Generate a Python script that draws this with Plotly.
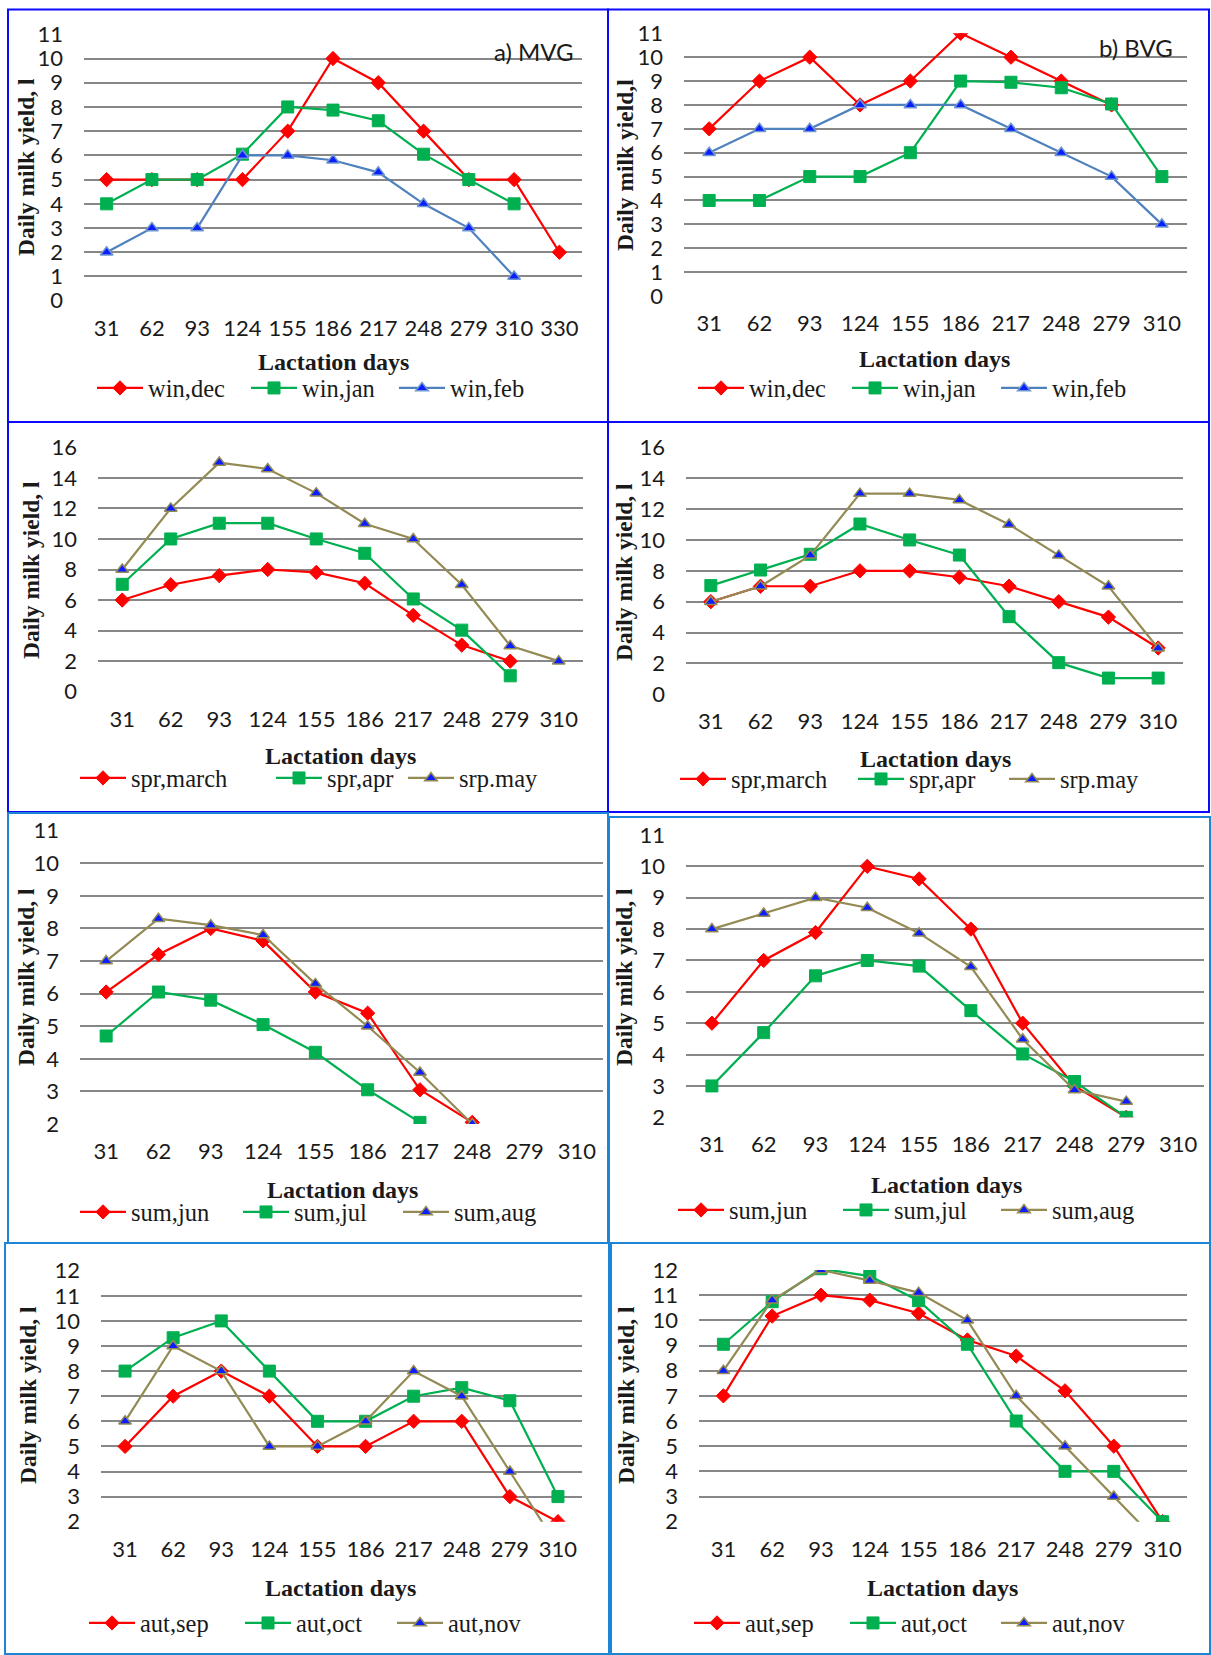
import plotly.graph_objects as go

W, H = 1211, 1655

# ---------------- data ----------------
days11 = ["31", "62", "93", "124", "155", "186", "217", "248", "279", "310", "330"]
days10 = days11[:10]

# a) MVG – winter
a_dec = [5, 5, 5, 5, 7, 10, 9, 7, 5, 5, 2]
a_jan = [4, 5, 5, 6.05, 8, 7.87, 7.43, 6.05, 5, 4]
a_feb = [2, 3, 3, 6, 6, 5.8, 5.3, 4, 3, 1]
# b) BVG – winter
b_dec = [7, 9, 10, 8, 9, 11, 10, 9, 8]
b_jan = [4, 4, 5, 5, 6, 9, 8.95, 8.72, 8.04, 5]
b_feb = [6, 7, 7, 8, 8, 8, 7, 6, 5, 3]
# MVG – spring
c_mar = [6, 7, 7.6, 8, 7.81, 7.1, 5, 3.05, 2]
c_apr = [7.03, 10, 11.03, 11.03, 10, 9.06, 6.07, 4.03, 1.04]
c_may = [8, 12, 15, 14.58, 13, 11, 10, 7, 3, 2]
# BVG – spring
d_mar = [6, 7, 7, 8, 8, 7.58, 7, 6, 5, 3]
d_apr = [7.04, 8.05, 9.07, 11.03, 10, 9.02, 5.03, 2.05, 1.05, 1.05]
d_may = [6, 7, 9, 13, 13, 12.59, 11, 9, 7, 2.98]
# MVG – summer
e_jun = [6.05, 7.2, 8, 7.62, 6.05, 5.4, 3.05, 2.05]
e_jul = [4.7, 6.05, 5.8, 5.05, 4.2, 3.05, 2.05]
e_aug = [7, 8.3, 8.1, 7.8, 6.3, 5, 3.58, 2]
# BVG – summer
f_jun = [5, 7, 7.89, 10, 9.6, 8, 5, 3, 2]
f_jul = [3, 4.7, 6.51, 7, 6.82, 5.4, 4.02, 3.14, 2]
f_aug = [8, 8.5, 9, 8.68, 7.87, 6.8, 4.49, 2.87, 2.5]
# MVG – autumn
g_sep = [5, 7, 8, 7, 5, 5, 6, 6, 3, 2]
g_oct = [8, 9.33, 10, 8, 6, 6, 7, 7.34, 6.82, 3]
g_nov = [6, 9, 8, 5, 5, 6, 8, 7, 4, 1]
# BVG – autumn
h_sep = [7, 10.17, 11, 10.8, 10.28, 9.22, 8.58, 7.2, 5, 2]
h_oct = [9.05, 10.74, 12.05, 11.76, 10.78, 9.05, 6, 4, 4, 2]
h_nov = [8, 10.8, 12, 11.58, 11.1, 10, 7, 5, 3, 1]

# ---------------- styles ----------------
STY = {
    "red": dict(line=dict(color="#FF0000", width=2.2),
                marker=dict(symbol="diamond", size=11, color="#FF0000",
                            line=dict(color="#FF0000", width=1))),
    "green": dict(line=dict(color="#00B050", width=2.2),
                  marker=dict(symbol="square", size=12, color="#00B050",
                              line=dict(color="#00B050", width=1))),
    "steel": dict(line=dict(color="#4F81BD", width=2.2),
                  marker=dict(symbol="triangle-up", size=11, color="#0A1EFF",
                              line=dict(color="#6F97CF", width=1.5))),
    "tan": dict(line=dict(color="#948A54", width=2.2),
                marker=dict(symbol="triangle-up", size=11, color="#0A1EFF",
                            line=dict(color="#948A54", width=1.5))),
}

BLUE1 = "#0A0AFF"
BLUE2 = "#1E84D6"

panels = [
    dict(cats=days11, ser=[("win,dec", a_dec, "red"), ("win,jan", a_jan, "green"), ("win,feb", a_feb, "steel")],
         x=(84, 582), y=(34.3, 300.7), yr=(0, 11), dt=1,
         leg=(99, 253, 401), legy=388, xt=(333, 362), yt=(26, 167), ytext="Daily milk yield, l",
         box=(8, 9.5, 608, 422, BLUE1), label=("a) MVG", 576, 51)),
    dict(cats=days10, ser=[("win,dec", b_dec, "red"), ("win,jan", b_jan, "green"), ("win,feb", b_feb, "steel")],
         x=(684, 1187), y=(33.3, 296), yr=(0, 11), dt=1,
         leg=(700, 854, 1003), legy=388, xt=(934, 359), yt=(625, 165), ytext="Daily milk yield,l",
         box=(608, 9.5, 1209, 422, BLUE1), label=("b) BVG", 1175, 48)),
    dict(cats=days10, ser=[("spr,march", c_mar, "red"), ("spr,apr", c_apr, "green"), ("srp.may", c_may, "tan")],
         x=(98, 583), y=(447.3, 691.7), yr=(0, 16), dt=2,
         leg=(82, 278, 410), legy=778, xt=(340, 756), yt=(31, 570), ytext="Daily milk yield, l",
         box=(8, 422, 608, 812, BLUE1), label=None),
    dict(cats=days10, ser=[("spr,march", d_mar, "red"), ("spr,apr", d_apr, "green"), ("srp.may", d_may, "tan")],
         x=(686, 1183), y=(447.3, 694.3), yr=(0, 16), dt=2,
         leg=(682, 860, 1011), legy=779, xt=(935, 759), yt=(624, 572), ytext="Daily milk yield, l",
         box=(608, 422, 1209, 812, BLUE1), label=None),
    dict(cats=days10, ser=[("sum,jun", e_jun, "red"), ("sum,jul", e_jul, "green"), ("sum,aug", e_aug, "tan")],
         x=(80, 603), y=(830.7, 1124), yr=(2, 11), dt=1,
         leg=(82, 245, 405), legy=1212, xt=(342, 1190), yt=(26, 977), ytext="Daily milk yield, l",
         box=(8, 813, 608, 1243, BLUE2), label=None),
    dict(cats=days10, ser=[("sum,jun", f_jun, "red"), ("sum,jul", f_jul, "green"), ("sum,aug", f_aug, "tan")],
         x=(686, 1204), y=(835, 1117.3), yr=(2, 11), dt=1,
         leg=(680, 845, 1003), legy=1210, xt=(946, 1185), yt=(624, 977), ytext="Daily milk yield, l",
         box=(609, 817, 1210, 1243, BLUE2), label=None),
    dict(cats=days10, ser=[("aut,sep", g_sep, "red"), ("aut,oct", g_oct, "green"), ("aut,nov", g_nov, "tan")],
         x=(101, 582), y=(1270.7, 1521.7), yr=(2, 12), dt=1,
         leg=(91, 247, 399), legy=1623, xt=(340, 1588), yt=(28, 1395), ytext="Daily milk yield, l",
         box=(5, 1243, 609, 1654, BLUE2), label=None),
    dict(cats=days10, ser=[("aut,sep", h_sep, "red"), ("aut,oct", h_oct, "green"), ("aut,nov", h_nov, "tan")],
         x=(699, 1187), y=(1270, 1521.7), yr=(2, 12), dt=1,
         leg=(696, 852, 1003), legy=1623, xt=(942, 1588), yt=(626, 1395), ytext="Daily milk yield, l",
         box=(611, 1243, 1210, 1654, BLUE2), label=None),
]


def fx(p):
    return p / W


def fy(p):
    return 1 - p / H


TICKFONT = dict(family="Lato", size=22, color="#1a1a1a")
SERIF = "Liberation Serif"

fig = go.Figure()
layout = dict(width=W, height=H, margin=dict(l=0, r=0, t=0, b=0, pad=0, autoexpand=False),
              paper_bgcolor="white", plot_bgcolor="white", showlegend=True)
annotations = []
shapes = []
leg_count = 0

for i, p in enumerate(panels):
    k = "" if i == 0 else str(i + 1)
    xa, ya = "x" + k, "y" + k
    for j, (name, vals, st) in enumerate(p["ser"]):
        leg_count += 1
        lid = "legend" if leg_count == 1 else "legend%d" % leg_count
        fig.add_trace(go.Scatter(x=p["cats"][:len(vals)], y=vals, name=name, mode="lines+markers",
                                 xaxis=xa, yaxis=ya, legend=lid, **STY[st]))
        layout[lid] = dict(x=fx(p["leg"][j] - 7), y=fy(p["legy"]), xanchor="left", yanchor="middle",
                           orientation="h", bgcolor="rgba(0,0,0,0)", borderwidth=0, itemwidth=46,
                           font=dict(family=SERIF, size=24.5, color="#1a1a1a"))
    n = len(p["cats"])
    layout["xaxis" + k] = dict(domain=[fx(p["x"][0]), fx(p["x"][1])], anchor=ya, type="category",
                               categoryorder="array", categoryarray=p["cats"], range=[-0.5, n - 0.5],
                               showgrid=False, zeroline=False, showline=False, ticks="",
                               tickfont=TICKFONT, ticklabelstandoff=12, fixedrange=True,
                               automargin=False)
    layout["yaxis" + k] = dict(domain=[fy(p["y"][1]), fy(p["y"][0])], anchor=xa,
                               range=list(p["yr"]), dtick=p["dt"], tick0=0,
                               showgrid=True, gridcolor="#878787", gridwidth=2, zeroline=False,
                               showline=False, ticks="", tickfont=TICKFONT, ticklabelstandoff=20,
                               fixedrange=True, automargin=False)
    # axis titles
    annotations.append(dict(text="Lactation days", x=fx(p["xt"][0]), y=fy(p["xt"][1]),
                            xref="paper", yref="paper", showarrow=False, xanchor="center",
                            yanchor="middle",
                            font=dict(family=SERIF, size=24, color="#1a1a1a", weight="bold")))
    annotations.append(dict(text=p["ytext"], x=fx(p["yt"][0]), y=fy(p["yt"][1]), textangle=-90,
                            xref="paper", yref="paper", showarrow=False, xanchor="center",
                            yanchor="middle",
                            font=dict(family=SERIF, size=23.5, color="#1a1a1a", weight="bold")))
    if p["label"]:
        t, lx, ly = p["label"]
        annotations.append(dict(text=t, x=fx(lx), y=fy(ly), xref="paper", yref="paper",
                                showarrow=False, xanchor="right", yanchor="middle",
                                font=dict(family="Lato", size=24, color="#1a1a1a")))
    bx0, by0, bx1, by1, bc = p["box"]
    shapes.append(dict(type="rect", xref="paper", yref="paper", x0=fx(bx0), x1=fx(bx1),
                       y0=fy(by1), y1=fy(by0), line=dict(color=bc, width=2),
                       fillcolor="rgba(0,0,0,0)", layer="above"))

layout["annotations"] = annotations
layout["shapes"] = shapes
fig.update_layout(**layout)
fig.write_html("out.html", config={"displayModeBar": False, "responsive": False},
               post_script="document.body.style.margin='0';document.body.style.padding='0';"
                           "document.documentElement.style.overflow='hidden';")
